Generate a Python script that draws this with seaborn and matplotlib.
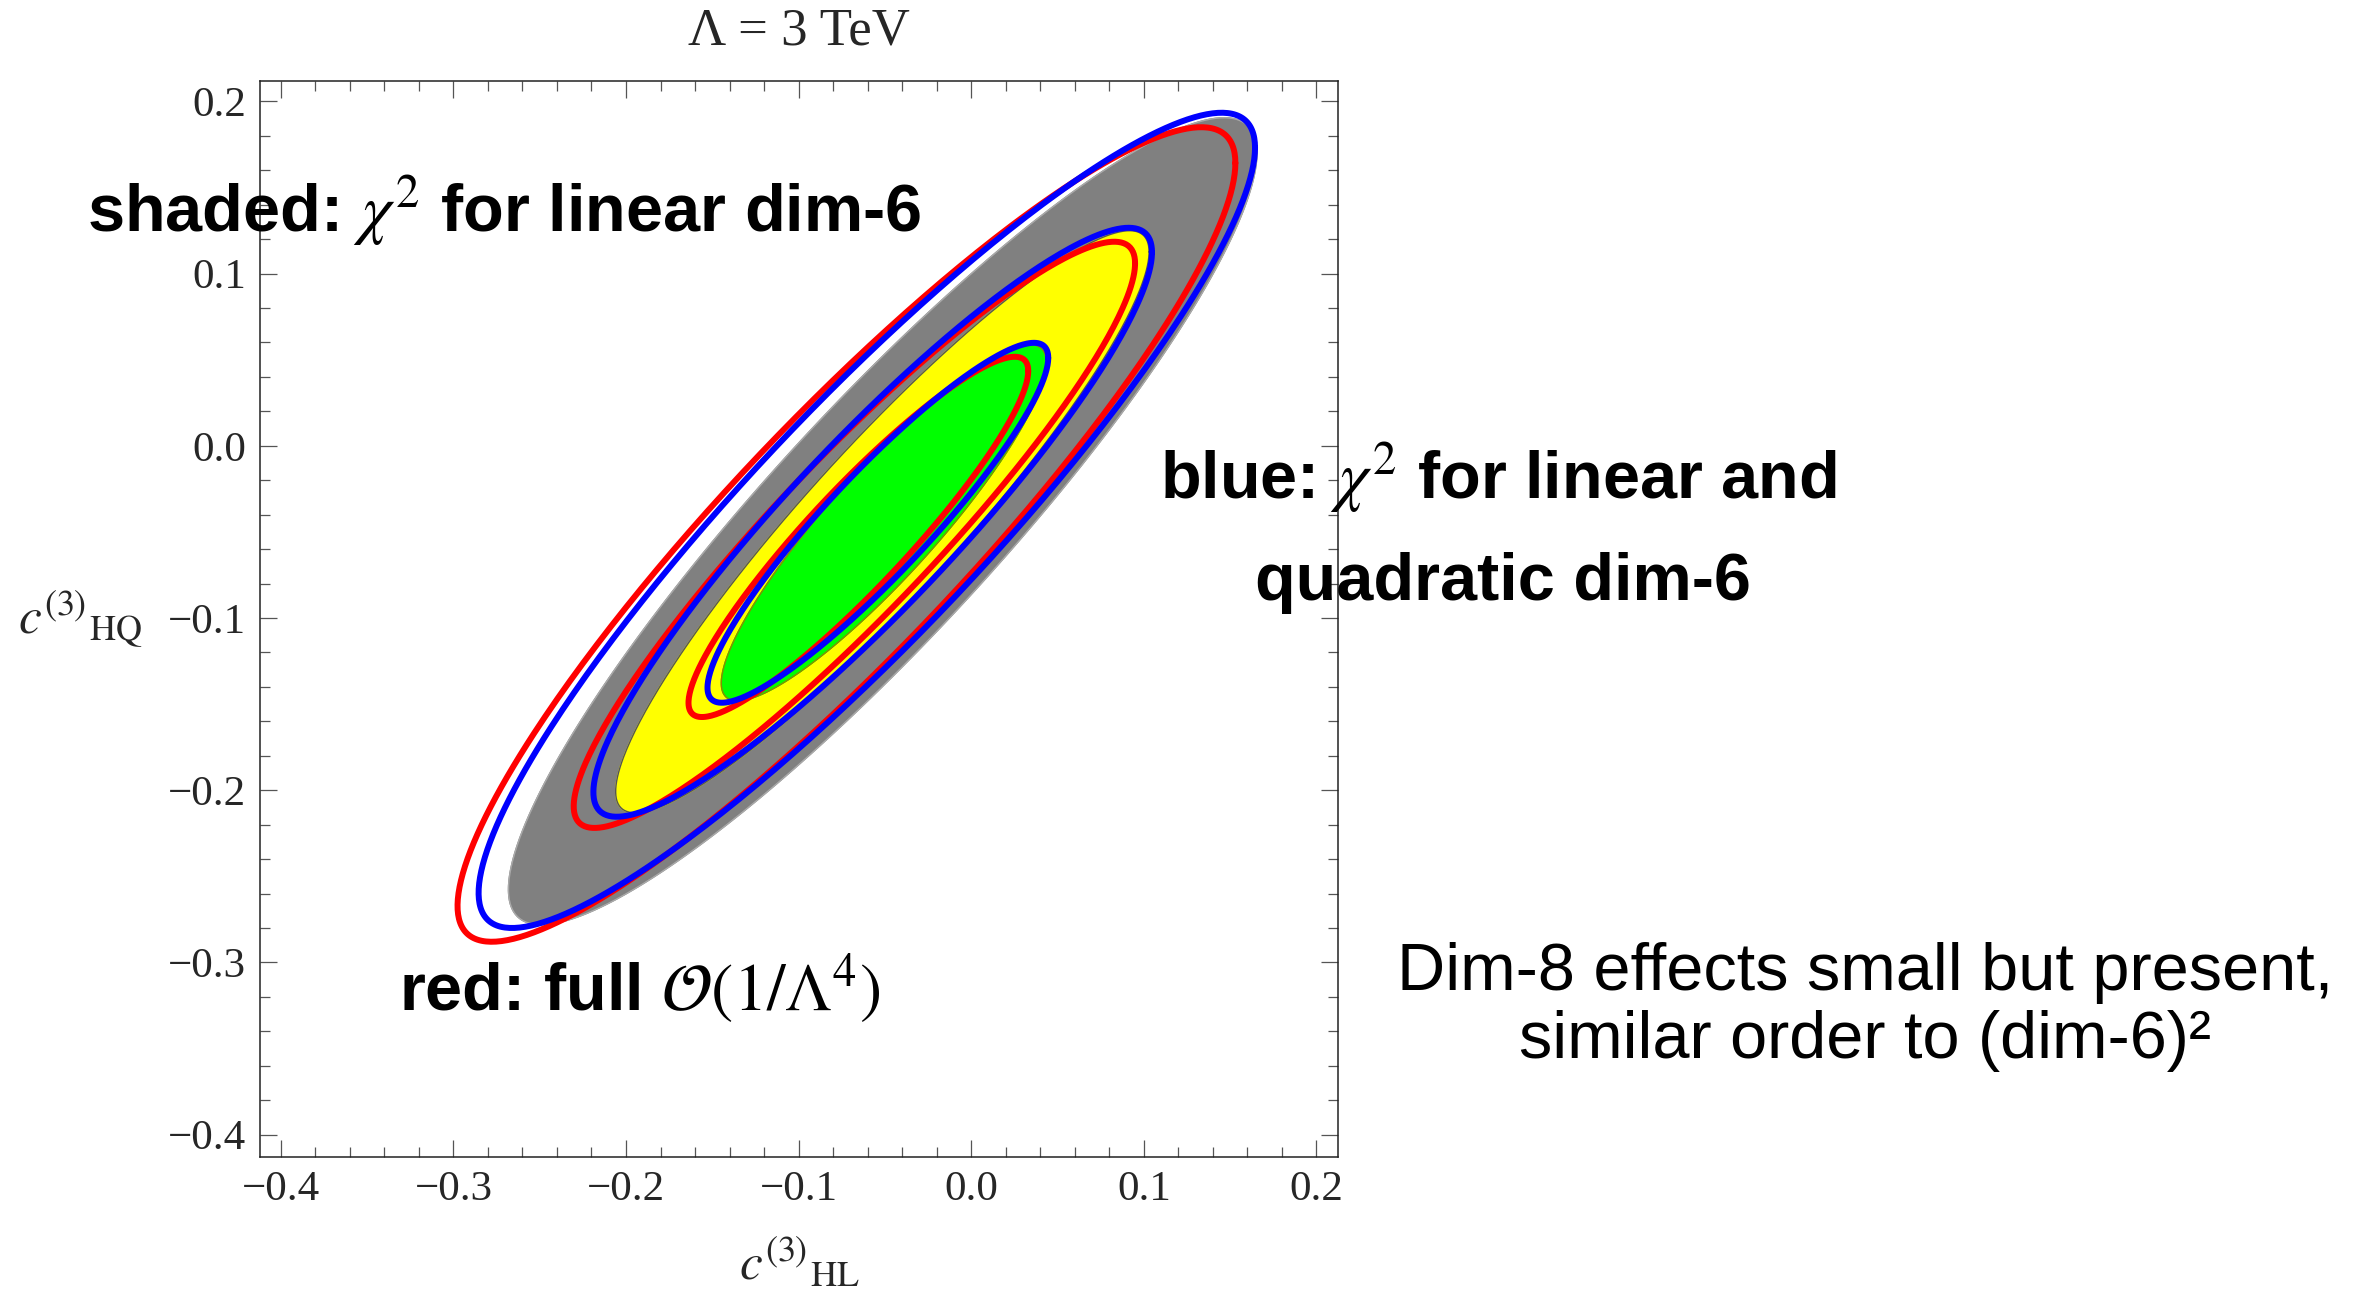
import numpy as np
import seaborn as sns
import matplotlib.pyplot as plt

# ellipse contours: centre, half extent in x / y, correlation
# shaded regions (linear dim-6 chi2): 1, 2, 3 sigma
shade_cx = [-0.0507, -0.0515, -0.0513]
shade_cy = [-0.0447, -0.0441, -0.0438]
shade_sx = [0.0941, 0.1545, 0.2168]
shade_sy = [0.1034, 0.1690, 0.2343]
shade_rho = [0.900, 0.927, 0.9125]
shade_colors = ["#00ff00", "#ffff00", "#808080"]
shade_edges = ["#8a8a00", "#555555", "#aaaaaa"]

# blue: linear + quadratic dim-6
blue_cx = [-0.0541, -0.0571, -0.0605]
blue_cy = [-0.0447, -0.0444, -0.0433]
blue_sx = [0.0987, 0.1618, 0.2249]
blue_sy = [0.1045, 0.1710, 0.2367]
blue_rho = [0.916, 0.9165, 0.914]

# red: full O(1/Lambda^4)
red_cx = [-0.0654, -0.0677, -0.0723]
red_cy = [-0.0529, -0.0517, -0.0515]
red_sx = [0.0984, 0.1626, 0.2253]
red_sy = [0.1046, 0.1702, 0.2365]
red_rho = [0.9205, 0.926, 0.912]

tick_vals = [-0.4, -0.3, -0.2, -0.1, 0.0, 0.1, 0.2]
tick_labels = ["\u22120.4", "\u22120.3", "\u22120.2", "\u22120.1", "0.0", "0.1", "0.2"]


def ellipse(cx, cy, sx, sy, rho, n=400):
    cov = np.array([[sx * sx, rho * sx * sy], [rho * sx * sy, sy * sy]])
    L = np.linalg.cholesky(cov)
    t = np.linspace(0, 2 * np.pi, n)
    pts = L @ np.vstack([np.cos(t), np.sin(t)])
    return pts[0] + cx, pts[1] + cy


sns.set_style("ticks")
plt.rcParams["font.family"] = ["Liberation Serif", "DejaVu Serif"]
plt.rcParams["mathtext.fontset"] = "stix"

fig = plt.figure(figsize=(23.62, 12.99), dpi=100)
ax = fig.add_axes([0.1101, 0.1093, 0.4564, 0.8283])

# shaded: largest first
for i in [2, 1, 0]:
    x, y = ellipse(shade_cx[i], shade_cy[i], shade_sx[i], shade_sy[i], shade_rho[i])
    ax.fill(x, y, color=shade_colors[i], zorder=1 + (2 - i))
    ax.plot(x, y, color=shade_edges[i], lw=1.0, zorder=1 + (2 - i))

for i in range(3):
    x, y = ellipse(red_cx[i], red_cy[i], red_sx[i], red_sy[i], red_rho[i])
    sns.lineplot(x=x, y=y, sort=False, estimator=None, color="#ff0000", lw=4.3, ax=ax, zorder=5)
for i in range(3):
    x, y = ellipse(blue_cx[i], blue_cy[i], blue_sx[i], blue_sy[i], blue_rho[i])
    sns.lineplot(x=x, y=y, sort=False, estimator=None, color="#0000ff", lw=4.3, ax=ax, zorder=6)

ax.set_xlim(-0.412, 0.2125)
ax.set_ylim(-0.413, 0.2118)
ax.set_xticks(tick_vals)
ax.set_xticklabels(tick_labels)
ax.set_yticks(tick_vals)
ax.set_yticklabels(tick_labels)
ax.set_xticks(np.arange(-0.40, 0.21, 0.02), minor=True)
ax.set_yticks(np.arange(-0.40, 0.21, 0.02), minor=True)
ax.tick_params(which="both", direction="in", top=True, right=True, color="#555555", width=0.9)
ax.tick_params(which="major", length=12, labelsize=31, pad=10)
ax.tick_params(which="minor", length=7.5)
for s in ax.spines.values():
    s.set_color("#222222")
    s.set_linewidth(1.1)

ax.set_title("\u039b = 3 TeV", fontsize=38, pad=26)
ax.set_xlabel(r"$c^{(3)}{}_{\mathrm{HL}}$", fontsize=37)
ax.xaxis.set_label_coords(0.5, -0.074)
ax.set_ylabel(r"$c^{(3)}{}_{\mathrm{HQ}}$", fontsize=37, rotation=0, ha="center", va="center")
ax.yaxis.set_label_coords(-0.167, 0.5)

hand = dict(family=["Liberation Sans", "DejaVu Sans"], fontweight="bold",
            fontsize=48, color="black", ha="left", va="baseline")
fig.text(87 / 2362, 1 - 232 / 1299, r"shaded: $\chi^2$ for linear dim-6", **hand)
fig.text(1160 / 2362, 1 - 499 / 1299, r"blue: $\chi^2$ for linear and", **hand)
fig.text(1255 / 2362, 1 - 600 / 1299, "quadratic dim-6", **hand)
fig.text(399 / 2362, 1 - 1010 / 1299, r"red: full $\mathcal{O}(1/\Lambda^4)$", **hand)

note = dict(family=["Liberation Sans", "DejaVu Sans"], fontsize=48, color="black",
            ha="center", va="baseline")
fig.text(1865 / 2362, 1 - 990 / 1299, "Dim-8 effects small but present,", **note)
fig.text(1865 / 2362, 1 - 1058 / 1299, "similar order to (dim-6)\u00b2", **note)

fig.savefig("out.png", dpi=100)
